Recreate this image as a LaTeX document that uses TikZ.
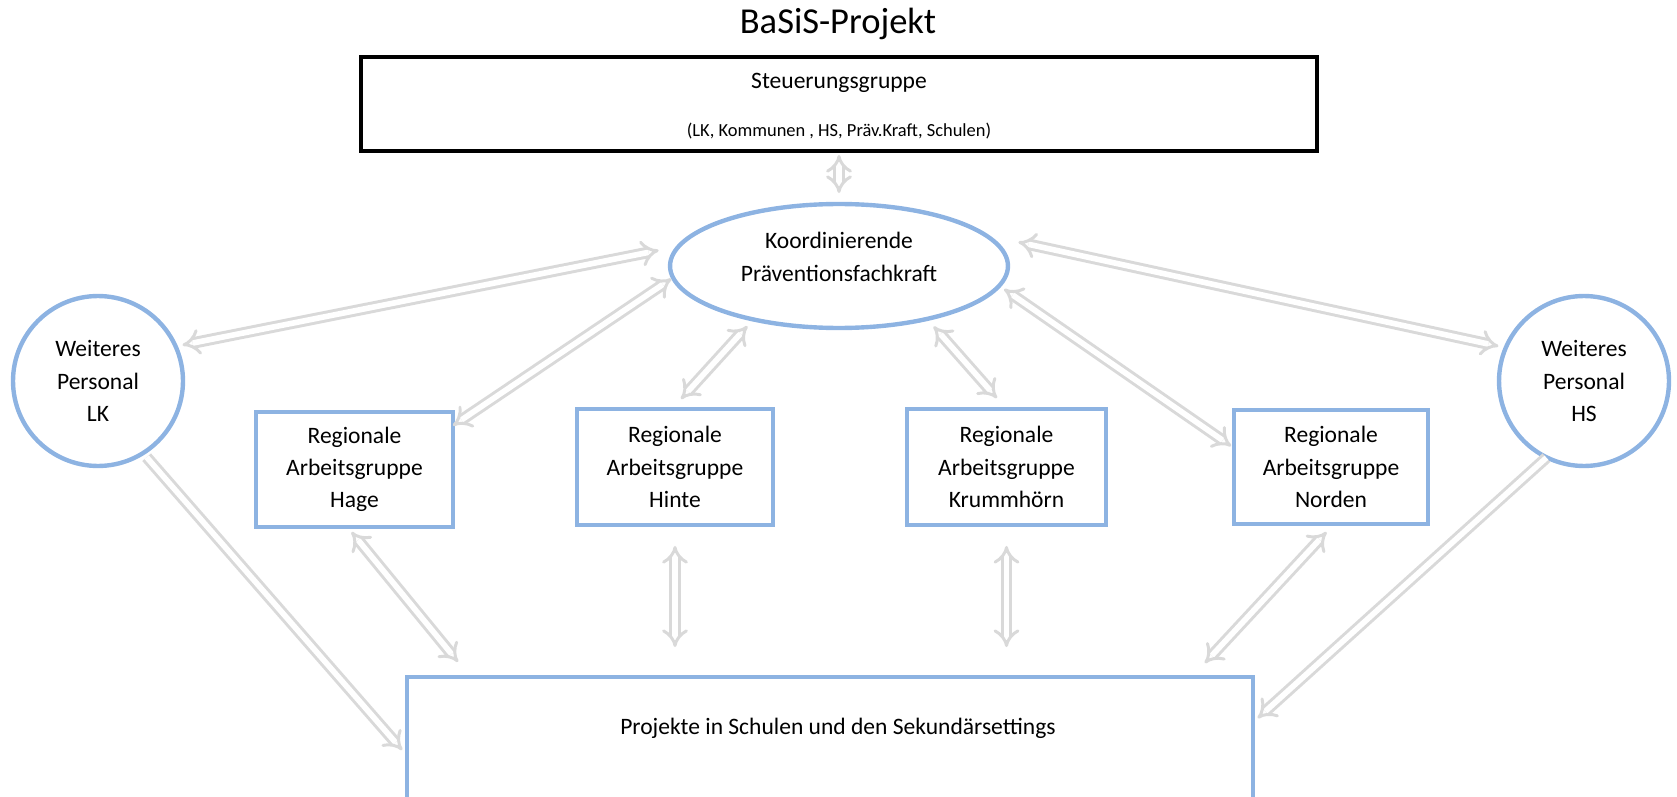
\documentclass[tikz,border=0pt]{standalone}
\usepackage{fontspec}
\setmainfont{Carlito}
\usetikzlibrary{arrows.meta,shapes.geometric,calc}
\definecolor{boxblue}{RGB}{141,179,226}
\definecolor{arrowgray}{RGB}{217,217,217}

\begin{document}
\begin{tikzpicture}[x=0.02cm,y=-0.02cm,
  every node/.style={outer sep=0pt,inner sep=0pt,align=center,
    font=\fontsize{13.4}{18.4}\selectfont},
  bluebox/.style={draw=boxblue,line width=2.5pt},
  link/.style={draw=arrowgray,double=white,line width=1.7pt,
    double distance=3.2pt,{Implies[length=6pt,width=13pt]}-{Implies[length=6pt,width=13pt]}},
  oneway/.style={link,-{Implies[length=6pt,width=13pt]}}]
\clip (0,0) rectangle (1677,797);

% Kopf
\node (titel) at (838,23.5) {\fontsize{20.8}{25}\selectfont BaSiS-Projekt};
\node[draw=black,line width=1.9pt,minimum width=19.12cm,minimum height=1.88cm] (steuer) at (839,104) {};
\node (steuertitel) at (839,83) {Steuerungsgruppe};
\node (steuerinfo) at (839,131.5) {\fontsize{10.5}{12}\selectfont (LK, Kommunen , HS, Präv.Kraft, Schulen)};

% Mitte
\node[bluebox,ellipse,minimum width=6.76cm,minimum height=2.48cm] (koord) at (839,266) {};
\node (koordtext) at (839,257) {Koordinierende\\Präventionsfachkraft};
\node[bluebox,circle,minimum size=3.4cm] (lk) at (98,381) {Weiteres\\Personal\\LK};
\node[bluebox,circle,minimum size=3.4cm] (hs) at (1584,381) {Weiteres\\Personal\\HS};

% Arbeitsgruppen
\node[bluebox,minimum width=3.94cm,minimum height=2.3cm] (hage) at (354.5,469.5) {Regionale\\Arbeitsgruppe\\Hage};
\node[bluebox,minimum width=3.92cm,minimum height=2.32cm] (hinte) at (675,467) {Regionale\\Arbeitsgruppe\\Hinte};
\node[bluebox,minimum width=3.98cm,minimum height=2.32cm] (krumm) at (1006.5,467) {Regionale\\Arbeitsgruppe\\Krummhörn};
\node[bluebox,minimum width=3.88cm,minimum height=2.28cm] (norden) at (1331,467) {Regionale\\Arbeitsgruppe\\Norden};

% Projekte
\node[bluebox,minimum width=16.92cm,minimum height=4cm] (projekte) at (830,777) {};
\node (projekttext) at (838,728) {Projekte in Schulen und den Sekundärsettings};

% Pfeile
\draw[link,shorten <=0.08cm,shorten >=0.22cm] (koord.north |- steuer.south) -- (koord.north);
\draw[link,shorten <=0.41cm,shorten >=0.14cm] (koord.173.7) -- (lk.24.8);
\draw[link,shorten <=0.04cm] (koord.184.5) -- (hage.24.3);
\draw[link,shorten <=0.18cm,shorten >=0.27cm] (koord.212.2) -- (hinte.93.2);
\draw[link,shorten <=0.2cm,shorten >=0.29cm] (koord.329.6) -- (krumm.90);
\draw[link,shorten <=0.12cm,shorten >=0.07cm] (koord.353.4) -- (norden.169.5);
\draw[link,shorten <=0.68cm,shorten >=0.15cm] (koord.12.1) -- (hs.157.6);

\draw[oneway,shorten <=0.11cm,shorten >=0.15cm] (lk.302.3) -- ($(projekte.north west)+(0,78.7)$);
\draw[link,shorten <=0.13cm,shorten >=0.39cm] (hage.263.5) -- ($(projekte.north west)+(63.3,0)$);
\draw[link,shorten <=0.42cm,shorten >=0.6cm] (hinte.south) -- (hinte.south |- projekte.north);
\draw[link,shorten <=0.42cm,shorten >=0.6cm] (krumm.south) -- (krumm.south |- projekte.north);
\draw[link,shorten <=0.22cm,shorten >=0.38cm] (norden.273.4) -- ($(projekte.north east)+(-61,0)$);
\draw[oneway,shorten <=0.01cm,shorten >=0.13cm] (hs.244.4) -- ($(projekte.north east)+(0,45.5)$);
\end{tikzpicture}
\end{document}
